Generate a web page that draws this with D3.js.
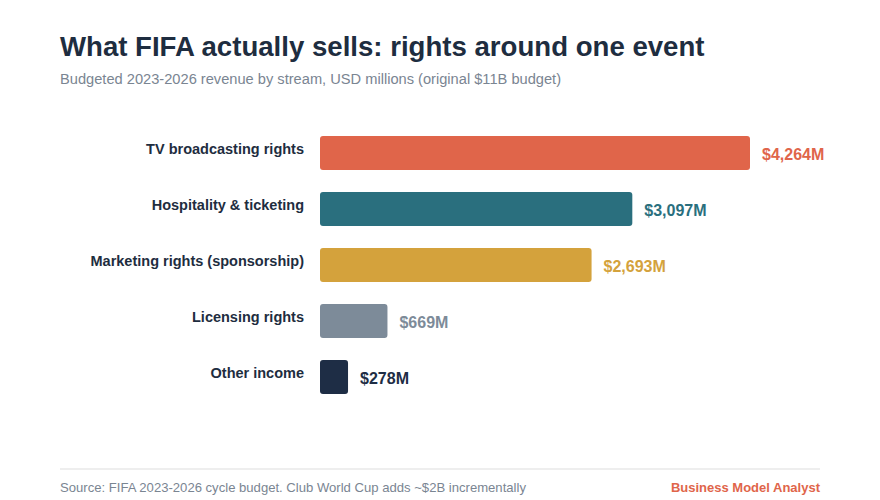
<!DOCTYPE html>
<html><head><meta charset="utf-8">
<script src="https://cdn.jsdelivr.net/npm/d3@7"></script>
<style>body{margin:0;background:#fff;font-family:"Liberation Sans",Arial,sans-serif}</style>
</head><body><svg id="c" width="880" height="500"></svg>
<script>
const categories = ["TV broadcasting rights","Hospitality & ticketing","Marketing rights (sponsorship)","Licensing rights","Other income"];
const values = [4264,3097,2693,669,278];
const colors = ["#e0654a","#2a6f7e","#d4a23c","#7d8b99","#1e2d45"];

const svg = d3.select("#c");
svg.append("rect").attr("width",880).attr("height",500).attr("fill","#fff");
svg.append("text").attr("x",60).attr("y",56).attr("font-size",27.6).attr("font-weight","bold").attr("fill","#1e2d40").text("What FIFA actually sells: rights around one event");
svg.append("text").attr("x",60).attr("y",84).attr("font-size",14.65).attr("fill","#7a8592").text("Budgeted 2023-2026 revenue by stream, USD millions (original $11B budget)");

const x = d3.scaleLinear().domain([0,4264]).range([320,750]);
const y = d3.scaleBand().domain(categories).range([125,405]).paddingInner(0.393).paddingOuter(0.196);

const g = svg.append("g");
categories.forEach((c,i)=>{
  const yy = y(c), h = y.bandwidth(), cy = yy+h/2;
  g.append("rect").attr("x",x(0)).attr("y",yy).attr("width",x(values[i])-x(0)).attr("height",h).attr("rx",3).attr("fill",colors[i]);
  g.append("text").attr("x",304).attr("y",cy+1).attr("text-anchor","end").attr("font-size",14.5).attr("font-weight","bold").attr("fill","#1e2d40").text(c);
  g.append("text").attr("x",x(values[i])+12).attr("y",cy+7).attr("font-size",16).attr("font-weight","bold").attr("fill",colors[i]).text("$"+d3.format(",")(values[i])+"M");
});

svg.append("line").attr("x1",60).attr("x2",820).attr("y1",469).attr("y2",469).attr("stroke","#dddddd");
svg.append("text").attr("x",60).attr("y",492).attr("font-size",13.1).attr("fill","#7a8592").text("Source: FIFA 2023-2026 cycle budget. Club World Cup adds ~$2B incrementally");
svg.append("text").attr("x",820).attr("y",492).attr("text-anchor","end").attr("font-size",13).attr("font-weight","bold").attr("fill","#e0654a").text("Business Model Analyst");
</script></body></html>
